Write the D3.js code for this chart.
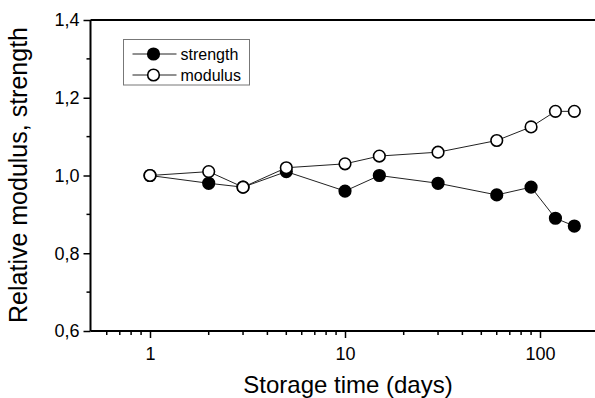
<!DOCTYPE html>
<html>
<head>
<meta charset="utf-8">
<script src="https://cdn.jsdelivr.net/npm/d3@7"></script>
<style>
  body { margin: 0; background: #fff; }
  svg { display: block; font-family: "Liberation Sans", Arial, sans-serif; }
</style>
</head>
<body>
<div id="Graph"></div>
<script>
// storage time in days, relative values
const days = [1, 2, 3, 5, 10, 15, 30, 60, 90, 120, 150];
const strength = [1.00, 0.98, 0.97, 1.01, 0.96, 1.00, 0.98, 0.95, 0.97, 0.89, 0.87];
const modulus = [1.00, 1.01, 0.97, 1.02, 1.03, 1.05, 1.06, 1.09, 1.125, 1.165, 1.165];
const xTicks = [1, 10, 100];
const yTicks = [0.6, 0.8, 1.0, 1.2, 1.4];
const yMinor = [0.7, 0.9, 1.1, 1.3];
const seriesNames = ["strength", "modulus"];

const width = 595, height = 398;
const svg = d3.select("#Graph").append("svg")
  .attr("width", width)
  .attr("height", height);

const x = d3.scaleLog().domain([0.5, 200]).range([91.3, 598.7]);
const y = d3.scaleLinear().domain([0.6, 1.4]).range([331, 20]);

const fmt = v => d3.format(".1f")(v).replace(".", ",");

// minor log ticks (0.6..0.9, 2..9, 20..90, 200)
const xMinor = [];
[0.1, 1, 10, 100].forEach(dec => {
  for (let k = 1; k < 10; k++) {
    const v = dec * k;
    if (v > 0.5 && v <= 200 && !xTicks.includes(v)) xMinor.push(v);
  }
});

// x axis
const gx = svg.append("g").attr("transform", "translate(0,331)");
gx.call(d3.axisBottom(x).tickValues(xTicks).tickSize(7).tickFormat(d3.format("d")))
  .call(g => g.select(".domain").remove());
gx.selectAll(".tick line").attr("stroke-width", 1.5);
gx.selectAll(".tick text").attr("font-size", 18).attr("dy", "1.05em").attr("font-family", "Liberation Sans, Arial, sans-serif").attr("fill", "#000");
gx.append("g").selectAll("line").data(xMinor).enter().append("line")
  .attr("x1", d => x(d)).attr("x2", d => x(d))
  .attr("y1", 0).attr("y2", 4)
  .attr("stroke", "#000").attr("stroke-width", 1.5);

// y axis
const gy = svg.append("g").attr("transform", "translate(90.5,0)");
gy.call(d3.axisLeft(y).tickValues(yTicks).tickSize(7).tickFormat(fmt))
  .call(g => g.select(".domain").remove());
gy.selectAll(".tick line").attr("stroke-width", 1.5);
gy.selectAll(".tick text").attr("font-size", 18).attr("x", -11).attr("font-family", "Liberation Sans, Arial, sans-serif").attr("fill", "#000");
gy.append("g").selectAll("line").data(yMinor).enter().append("line")
  .attr("x1", -4).attr("x2", 0)
  .attr("y1", d => y(d)).attr("y2", d => y(d))
  .attr("stroke", "#000").attr("stroke-width", 1.5);

// frame lines
svg.append("line").attr("x1", 90.5).attr("x2", 90.5).attr("y1", 20).attr("y2", 331)
  .attr("stroke", "#000").attr("stroke-width", 2);
svg.append("line").attr("x1", 90.5).attr("x2", width).attr("y1", 331).attr("y2", 331)
  .attr("stroke", "#000").attr("stroke-width", 2);
svg.append("line").attr("x1", 90.5).attr("x2", width).attr("y1", 20).attr("y2", 20)
  .attr("stroke", "#000").attr("stroke-width", 2);

// series
const series = [
  { name: seriesNames[0], values: strength, fill: "#000" },
  { name: seriesNames[1], values: modulus, fill: "#fff" }
];
const line = d3.line().x(d => x(d[0])).y(d => y(d[1]));

series.forEach(s => {
  const pts = days.map((d, i) => [d, s.values[i]]);
  svg.append("path")
    .datum(pts)
    .attr("d", line)
    .attr("fill", "none")
    .attr("stroke", "#222")
    .attr("stroke-width", 1);
  svg.append("g").selectAll("circle").data(pts).enter().append("circle")
    .attr("cx", d => x(d[0]))
    .attr("cy", d => y(d[1]))
    .attr("r", 5.8)
    .attr("fill", s.fill)
    .attr("stroke", "#000")
    .attr("stroke-width", 1.6);
});

// legend
const lg = svg.append("g").attr("transform", "translate(123.5,39.5)");
lg.append("rect").attr("width", 126).attr("height", 45.5)
  .attr("fill", "#fff").attr("stroke", "#777").attr("stroke-width", 1);
series.forEach((s, i) => {
  const cy = 14.5 + i * 21;
  lg.append("line").attr("x1", 9).attr("x2", 53).attr("y1", cy).attr("y2", cy)
    .attr("stroke", "#222").attr("stroke-width", 1);
  lg.append("circle").attr("cx", 30).attr("cy", cy).attr("r", 5.8)
    .attr("fill", s.fill).attr("stroke", "#000").attr("stroke-width", 1.6);
  lg.append("text").attr("x", 57).attr("y", cy).attr("dy", "0.35em")
    .attr("font-size", 16).attr("fill", "#000").text(s.name);
});

// axis titles
svg.append("text")
  .attr("x", 348).attr("y", 393)
  .attr("text-anchor", "middle")
  .attr("font-size", 24)
  .text("Storage time (days)");
svg.append("text")
  .attr("transform", "translate(27,175) rotate(-90)")
  .attr("text-anchor", "middle")
  .attr("font-size", 25)
  .text("Relative modulus, strength");
</script>
</body>
</html>
